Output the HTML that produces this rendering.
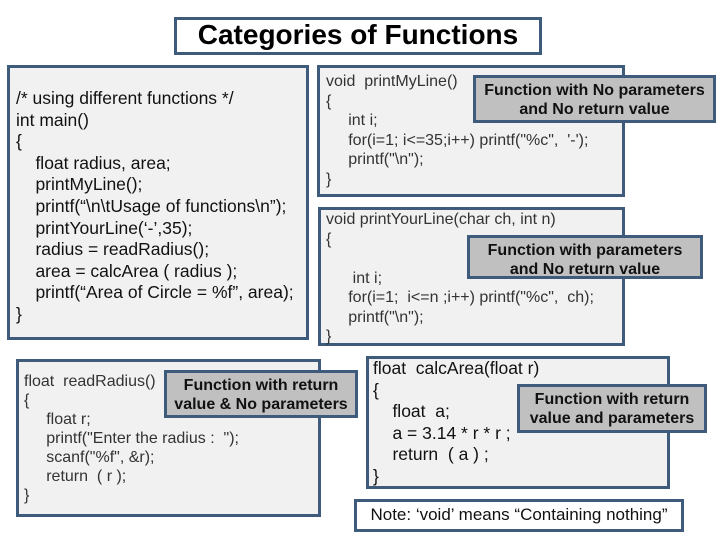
<!DOCTYPE html>
<html><head><meta charset="utf-8"><style>
body{margin:0;width:720px;height:540px;background:#fff;position:relative;overflow:hidden;font-family:"Liberation Sans",Arial,sans-serif;}
.b{position:absolute;box-sizing:border-box;border:3px solid #3f5b7c;background:#f1f1f1;}
.l{position:absolute;box-sizing:border-box;border:3px solid #3f5b7c;background:#c0c0c0;font-weight:bold;font-size:16px;text-align:center;line-height:19px;color:#111;padding-top:3px;white-space:nowrap;}
.t{position:absolute;white-space:pre;color:#222;}
.c{font-size:16px;line-height:19.5px;color:#333;}
.m{font-size:17.5px;line-height:21.6px;color:#111;}
</style></head><body>
<div class="b" style="left:174px;top:17px;width:368px;height:38px;background:#fff;"></div>
<div class="t" style="left:174px;top:19px;width:368px;text-align:center;font-size:28px;font-weight:bold;color:#000;">Categories of Functions</div>

<div class="b" style="left:7px;top:65px;width:302px;height:275px;"></div>
<div class="t m" style="left:16px;top:88px;">/* using different functions */
int main()
{
    float radius, area;
    printMyLine();
    printf(“\n\tUsage of functions\n”);
    printYourLine(‘-’,35);
    radius = readRadius();
    area = calcArea ( radius );
    printf(“Area of Circle = %f”, area);
}</div>

<div class="b" style="left:317px;top:65px;width:308px;height:132px;"></div>
<div class="t c" style="left:326px;top:72px;">void  printMyLine()
{
     int i;
     for(i=1; i&lt;=35;i++) printf("%c",  '-');
     printf("\n");
}</div>
<div class="l" style="left:473px;top:75px;width:243px;height:48px;">Function with No parameters<br>and No return value</div>

<div class="b" style="left:318px;top:207px;width:307px;height:139px;"></div>
<div class="t c" style="left:326px;top:210px;">void printYourLine(char ch, int n)
{

      int i;
     for(i=1;  i&lt;=n ;i++) printf("%c",  ch);
     printf("\n");
}</div>
<div class="l" style="left:467px;top:235px;width:236px;height:44px;">Function with parameters<br>and No return value</div>

<div class="b" style="left:16px;top:359px;width:305px;height:158px;"></div>
<div class="t c" style="left:24px;top:372px;line-height:19px;">float  readRadius()
{
     float r;
     printf("Enter the radius :  ");
     scanf("%f", &amp;r);
     return  ( r );
}</div>
<div class="l" style="left:164px;top:370px;width:194px;height:48px;">Function with return<br>value &amp; No parameters</div>

<div class="b" style="left:366px;top:356px;width:304px;height:133px;"></div>
<div class="t m" style="left:373px;top:358px;">float  calcArea(float r)
{
    float  a;
    a = 3.14 * r * r ;
    return  ( a ) ;
}</div>
<div class="l" style="left:517px;top:384px;width:190px;height:49px;">Function with return<br>value and parameters</div>

<div class="b" style="left:354px;top:499px;width:330px;height:33px;background:#fff;"></div>
<div class="t" style="left:354px;top:505px;width:330px;text-align:center;font-size:17px;color:#111;">Note: ‘void’ means “Containing nothing”</div>
</body></html>
